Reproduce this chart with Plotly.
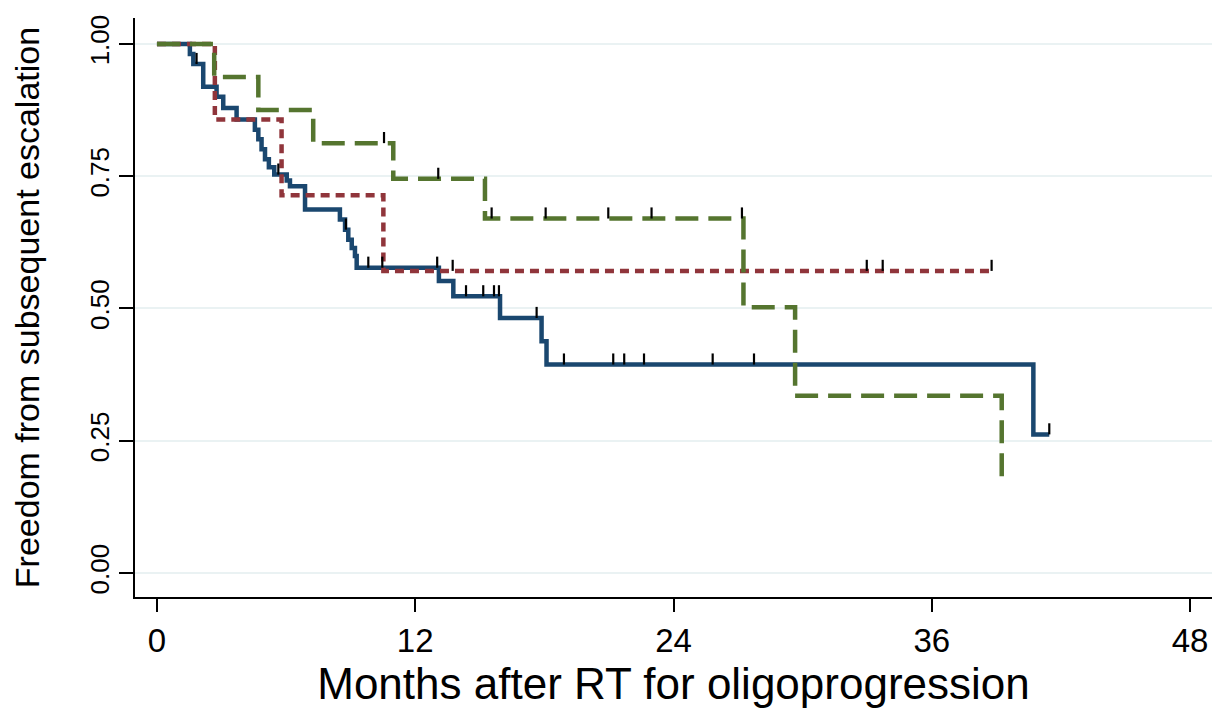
import plotly.graph_objects as go

# ---- Data (months, survival) ----
blue_t = [0, 1.53, 1.69, 2.15, 2.77, 3.08, 3.70, 4.55, 4.71, 4.86, 5.02, 5.20, 5.45,
          6.03, 6.18, 6.88, 8.50, 8.74, 8.89, 9.05, 9.20, 9.28, 13.10, 13.77, 15.94,
          17.87, 18.10, 40.72, 41.46]
blue_s = [1.0, 0.981, 0.962, 0.919, 0.900, 0.879, 0.857, 0.838, 0.820, 0.801, 0.782, 0.767, 0.753,
          0.742, 0.731, 0.687, 0.668, 0.649, 0.630, 0.6145, 0.599, 0.577, 0.552, 0.523, 0.482,
          0.438, 0.394, 0.262, 0.262]
blue_cens = [1.84, 5.64, 8.78, 9.82, 10.47, 13.02, 14.36, 15.16, 15.66, 15.89, 17.64,
             18.91, 21.20, 21.71, 22.63, 25.82, 27.74, 41.46]

red_t = [0, 2.69, 5.79, 10.52, 38.78]
red_s = [1.0, 0.857, 0.714, 0.571, 0.571]
red_cens = [13.74, 32.98, 33.72, 38.78]

green_t = [0, 2.66, 4.71, 7.26, 10.98, 15.24, 27.25, 29.65, 39.25]
green_s = [1.0, 0.9375, 0.875, 0.8125, 0.745, 0.670, 0.5025, 0.335, 0.174]
green_cens = [10.55, 13.07, 15.55, 18.06, 20.97, 22.98, 27.18]

x_ticks = [0, 12, 24, 36, 48]
y_ticks = [0, 0.25, 0.5, 0.75, 1.0]
y_ticklabels = ["0.00", "0.25", "0.50", "0.75", "1.00"]

BLUE = "#1a476f"
RED = "#90353b"
GREEN = "#55752f"


def step_value(ts, ss, t):
    v = ss[0]
    for ti, si in zip(ts, ss):
        if ti <= t:
            v = si
    return v


def censor_segments(ts, ss, cens, h=0.021):
    xs, ys = [], []
    for c in cens:
        v = step_value(ts, ss, c)
        xs += [c, c, None]
        ys += [v, v + h, None]
    return xs, ys


fig = go.Figure()
for ts, ss, col, dash in [(blue_t, blue_s, BLUE, "solid"),
                          (red_t, red_s, RED, "9px,6px"),
                          (green_t, green_s, GREEN, "23px,10px")]:
    fig.add_trace(go.Scatter(x=ts, y=ss, mode="lines",
                             line=dict(color=col, width=4.5, shape="hv", dash=dash),
                             showlegend=False, hoverinfo="skip"))

for ts, ss, cens in [(blue_t, blue_s, blue_cens), (red_t, red_s, red_cens),
                     (green_t, green_s, green_cens)]:
    xs, ys = censor_segments(ts, ss, cens)
    fig.add_trace(go.Scatter(x=xs, y=ys, mode="lines",
                             line=dict(color="black", width=2.2),
                             showlegend=False, hoverinfo="skip"))

fig.update_layout(
    width=1230, height=713,
    margin=dict(l=127, r=26, t=10, b=124),
    paper_bgcolor="white", plot_bgcolor="white",
    font=dict(family="Liberation Sans, Arial, sans-serif", color="black"),
    showlegend=False,
)
fig.update_xaxes(
    range=[-1.02, 49.02], tickvals=x_ticks, ticktext=[str(v) for v in x_ticks],
    showgrid=False, zeroline=False,
    showline=True, linecolor="black", linewidth=2,
    ticks="outside", ticklen=13, tickwidth=2, tickcolor="black",
    tickfont=dict(size=33),
    title=dict(text="Months after RT for oligoprogression", font=dict(size=44), standoff=0),
    automargin=False,
)
fig.update_yaxes(
    range=[-0.0453, 1.049], tickvals=y_ticks, ticktext=y_ticklabels,
    showgrid=True, gridcolor="#eaf2f3", gridwidth=2, zeroline=False,
    showline=True, linecolor="black", linewidth=2,
    ticks="outside", ticklen=14, tickwidth=2, tickcolor="black",
    tickangle=-90, tickfont=dict(size=26),
    title=dict(text="Freedom from subsequent escalation", font=dict(size=34), standoff=36),
    automargin=False,
)

fig.write_html("out.html")
